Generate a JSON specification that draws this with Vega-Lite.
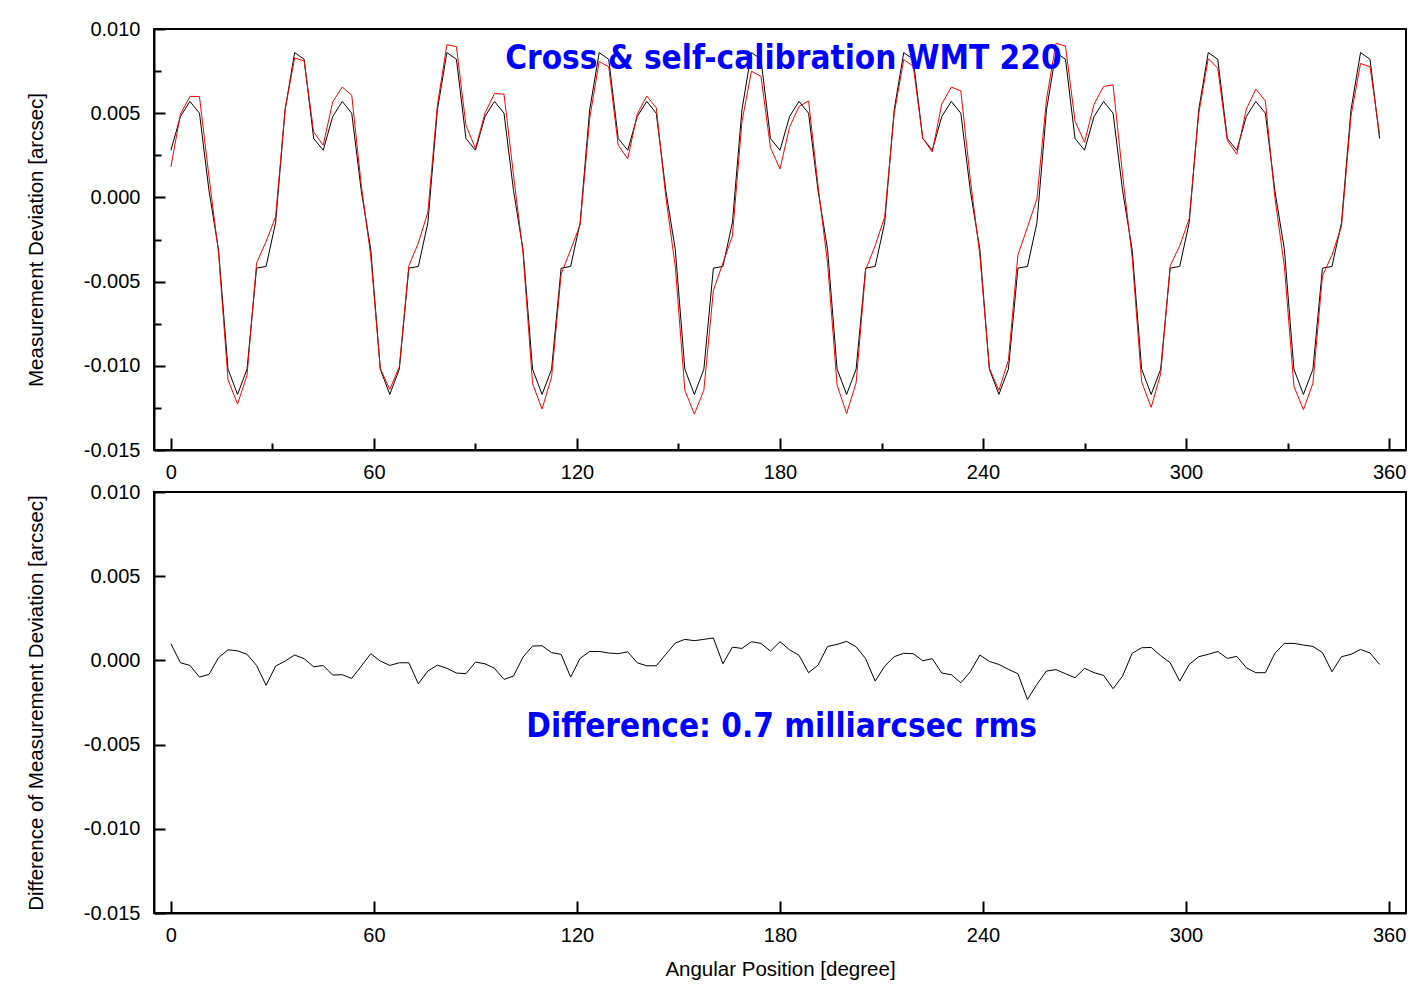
{
  "$schema": "https://vega.github.io/schema/vega-lite/v6.json",
  "background": "white",
  "padding": {"left": 25, "top": 18, "right": 20, "bottom": 8},
  "config": {
    "font": "Liberation Sans",
    "view": {"stroke": "black", "strokeWidth": 2},
    "axis": {"domainColor": "black", "domainWidth": 2, "tickColor": "black", "tickWidth": 2, "labelFont": "Liberation Sans", "labelFontSize": 20, "labelColor": "black", "titleFont": "Liberation Sans", "titleFontSize": 20.5, "titleFontWeight": "normal", "titleColor": "black", "grid": false, "labelFlush": false, "labelOverlap": false}
  },
  "data": {"values": [
    {"a":0,"b":0.0028,"r":0.00181,"d":0.00099},
    {"a":2.8125,"b":0.0048,"r":0.00494,"d":-0.00014},
    {"a":5.625,"b":0.0057,"r":0.006,"d":-0.0003},
    {"a":8.4375,"b":0.005,"r":0.00599,"d":-0.00099},
    {"a":11.25,"b":0.0004,"r":0.00123,"d":-0.00083},
    {"a":14.0625,"b":-0.0031,"r":-0.00326,"d":0.00016},
    {"a":16.875,"b":-0.0102,"r":-0.01083,"d":0.00063},
    {"a":19.6875,"b":-0.0117,"r":-0.01227,"d":0.00057},
    {"a":22.5,"b":-0.0102,"r":-0.01056,"d":0.00036},
    {"a":25.3125,"b":-0.0042,"r":-0.0039,"d":-0.0003},
    {"a":28.125,"b":-0.0041,"r":-0.00262,"d":-0.00148},
    {"a":30.9375,"b":-0.0015,"r":-0.00116,"d":-0.00034},
    {"a":33.75,"b":0.0052,"r":0.00524,"d":-0.00004},
    {"a":36.5625,"b":0.0086,"r":0.00828,"d":0.00032},
    {"a":39.375,"b":0.0082,"r":0.0081,"d":0.0001},
    {"a":42.1875,"b":0.0035,"r":0.00388,"d":-0.00038},
    {"a":45,"b":0.0028,"r":0.0031,"d":-0.0003},
    {"a":47.8125,"b":0.0048,"r":0.00567,"d":-0.00087},
    {"a":50.625,"b":0.0057,"r":0.00655,"d":-0.00085},
    {"a":53.4375,"b":0.005,"r":0.00607,"d":-0.00107},
    {"a":56.25,"b":0.0004,"r":0.00074,"d":-0.00034},
    {"a":59.0625,"b":-0.0031,"r":-0.0035,"d":0.0004},
    {"a":61.875,"b":-0.0102,"r":-0.01016,"d":-0.00004},
    {"a":64.6875,"b":-0.0117,"r":-0.0114,"d":-0.0003},
    {"a":67.5,"b":-0.0102,"r":-0.01006,"d":-0.00014},
    {"a":70.3125,"b":-0.0042,"r":-0.00406,"d":-0.00014},
    {"a":73.125,"b":-0.0041,"r":-0.00271,"d":-0.00139},
    {"a":75.9375,"b":-0.0015,"r":-0.00087,"d":-0.00063},
    {"a":78.75,"b":0.0052,"r":0.00548,"d":-0.00028},
    {"a":81.5625,"b":0.0086,"r":0.00907,"d":-0.00047},
    {"a":84.375,"b":0.0082,"r":0.00895,"d":-0.00075},
    {"a":87.1875,"b":0.0035,"r":0.00429,"d":-0.00079},
    {"a":90,"b":0.0028,"r":0.0029,"d":-0.0001},
    {"a":92.8125,"b":0.0048,"r":0.005,"d":-0.0002},
    {"a":95.625,"b":0.0057,"r":0.00617,"d":-0.00047},
    {"a":98.4375,"b":0.005,"r":0.00613,"d":-0.00113},
    {"a":101.25,"b":0.0004,"r":0.00133,"d":-0.00093},
    {"a":104.0625,"b":-0.0031,"r":-0.0033,"d":0.0002},
    {"a":106.875,"b":-0.0102,"r":-0.01105,"d":0.00085},
    {"a":109.6875,"b":-0.0117,"r":-0.01257,"d":0.00087},
    {"a":112.5,"b":-0.0102,"r":-0.01066,"d":0.00046},
    {"a":115.3125,"b":-0.0042,"r":-0.00456,"d":0.00036},
    {"a":118.125,"b":-0.0041,"r":-0.00311,"d":-0.00099},
    {"a":120.9375,"b":-0.0015,"r":-0.00162,"d":0.00012},
    {"a":123.75,"b":0.0052,"r":0.00467,"d":0.00053},
    {"a":126.5625,"b":0.0086,"r":0.00807,"d":0.00053},
    {"a":129.375,"b":0.0082,"r":0.00776,"d":0.00044},
    {"a":132.1875,"b":0.0035,"r":0.0031,"d":0.0004},
    {"a":135,"b":0.0028,"r":0.00229,"d":0.00051},
    {"a":137.8125,"b":0.0048,"r":0.00494,"d":-0.00014},
    {"a":140.625,"b":0.0057,"r":0.00602,"d":-0.00032},
    {"a":143.4375,"b":0.005,"r":0.00532,"d":-0.00032},
    {"a":146.25,"b":0.0004,"r":0.00004,"d":0.00036},
    {"a":149.0625,"b":-0.0031,"r":-0.00413,"d":0.00103},
    {"a":151.875,"b":-0.0102,"r":-0.01145,"d":0.00125},
    {"a":154.6875,"b":-0.0117,"r":-0.01287,"d":0.00117},
    {"a":157.5,"b":-0.0102,"r":-0.01145,"d":0.00125},
    {"a":160.3125,"b":-0.0042,"r":-0.00553,"d":0.00133},
    {"a":163.125,"b":-0.0041,"r":-0.0039,"d":-0.0002},
    {"a":165.9375,"b":-0.0015,"r":-0.00229,"d":0.00079},
    {"a":168.75,"b":0.0052,"r":0.00449,"d":0.00071},
    {"a":171.5625,"b":0.0086,"r":0.00749,"d":0.00111},
    {"a":174.375,"b":0.0082,"r":0.00719,"d":0.00101},
    {"a":177.1875,"b":0.0035,"r":0.00295,"d":0.00055},
    {"a":180,"b":0.0028,"r":0.00169,"d":0.00111},
    {"a":182.8125,"b":0.0048,"r":0.00417,"d":0.00063},
    {"a":185.625,"b":0.0057,"r":0.0054,"d":0.0003},
    {"a":188.4375,"b":0.005,"r":0.00573,"d":-0.00073},
    {"a":191.25,"b":0.0004,"r":0.00068,"d":-0.00028},
    {"a":194.0625,"b":-0.0031,"r":-0.00393,"d":0.00083},
    {"a":196.875,"b":-0.0102,"r":-0.01115,"d":0.00095},
    {"a":199.6875,"b":-0.0117,"r":-0.01283,"d":0.00113},
    {"a":202.5,"b":-0.0102,"r":-0.01101,"d":0.00081},
    {"a":205.3125,"b":-0.0042,"r":-0.0043,"d":0.0001},
    {"a":208.125,"b":-0.0041,"r":-0.00287,"d":-0.00123},
    {"a":210.9375,"b":-0.0015,"r":-0.00116,"d":-0.00034},
    {"a":213.75,"b":0.0052,"r":0.00498,"d":0.00022},
    {"a":216.5625,"b":0.0086,"r":0.00818,"d":0.00042},
    {"a":219.375,"b":0.0082,"r":0.0078,"d":0.0004},
    {"a":222.1875,"b":0.0035,"r":0.00352,"d":-0.00002},
    {"a":225,"b":0.0028,"r":0.0027,"d":0.0001},
    {"a":227.8125,"b":0.0048,"r":0.00555,"d":-0.00075},
    {"a":230.625,"b":0.0057,"r":0.00655,"d":-0.00085},
    {"a":233.4375,"b":0.005,"r":0.00633,"d":-0.00133},
    {"a":236.25,"b":0.0004,"r":0.00107,"d":-0.00067},
    {"a":239.0625,"b":-0.0031,"r":-0.00342,"d":0.00032},
    {"a":241.875,"b":-0.0102,"r":-0.01014,"d":-0.00006},
    {"a":244.6875,"b":-0.0117,"r":-0.01146,"d":-0.00024},
    {"a":247.5,"b":-0.0102,"r":-0.00967,"d":-0.00053},
    {"a":250.3125,"b":-0.0042,"r":-0.00341,"d":-0.00079},
    {"a":253.125,"b":-0.0041,"r":-0.00178,"d":-0.00232},
    {"a":255.9375,"b":-0.0015,"r":-0.00008,"d":-0.00142},
    {"a":258.75,"b":0.0052,"r":0.00583,"d":-0.00063},
    {"a":261.5625,"b":0.0086,"r":0.00915,"d":-0.00055},
    {"a":264.375,"b":0.0082,"r":0.00899,"d":-0.00079},
    {"a":267.1875,"b":0.0035,"r":0.00453,"d":-0.00103},
    {"a":270,"b":0.0028,"r":0.00327,"d":-0.00047},
    {"a":272.8125,"b":0.0048,"r":0.00553,"d":-0.00073},
    {"a":275.625,"b":0.0057,"r":0.00659,"d":-0.00089},
    {"a":278.4375,"b":0.005,"r":0.00668,"d":-0.00168},
    {"a":281.25,"b":0.0004,"r":0.00133,"d":-0.00093},
    {"a":284.0625,"b":-0.0031,"r":-0.00352,"d":0.00042},
    {"a":286.875,"b":-0.0102,"r":-0.01095,"d":0.00075},
    {"a":289.6875,"b":-0.0117,"r":-0.01247,"d":0.00077},
    {"a":292.5,"b":-0.0102,"r":-0.01048,"d":0.00028},
    {"a":295.3125,"b":-0.0042,"r":-0.00406,"d":-0.00014},
    {"a":298.125,"b":-0.0041,"r":-0.00287,"d":-0.00123},
    {"a":300.9375,"b":-0.0015,"r":-0.00126,"d":-0.00024},
    {"a":303.75,"b":0.0052,"r":0.00498,"d":0.00022},
    {"a":306.5625,"b":0.0086,"r":0.00824,"d":0.00036},
    {"a":309.375,"b":0.0082,"r":0.00767,"d":0.00053},
    {"a":312.1875,"b":0.0035,"r":0.00338,"d":0.00012},
    {"a":315,"b":0.0028,"r":0.00256,"d":0.00024},
    {"a":317.8125,"b":0.0048,"r":0.00524,"d":-0.00044},
    {"a":320.625,"b":0.0057,"r":0.00643,"d":-0.00073},
    {"a":323.4375,"b":0.005,"r":0.00573,"d":-0.00073},
    {"a":326.25,"b":0.0004,"r":-0.00002,"d":0.00042},
    {"a":329.0625,"b":-0.0031,"r":-0.00411,"d":0.00101},
    {"a":331.875,"b":-0.0102,"r":-0.01121,"d":0.00101},
    {"a":334.6875,"b":-0.0117,"r":-0.01261,"d":0.00091},
    {"a":337.5,"b":-0.0102,"r":-0.01103,"d":0.00083},
    {"a":340.3125,"b":-0.0042,"r":-0.00466,"d":0.00046},
    {"a":343.125,"b":-0.0041,"r":-0.00343,"d":-0.00067},
    {"a":345.9375,"b":-0.0015,"r":-0.00172,"d":0.00022},
    {"a":348.75,"b":0.0052,"r":0.00484,"d":0.00036},
    {"a":351.5625,"b":0.0086,"r":0.00795,"d":0.00065},
    {"a":354.375,"b":0.0082,"r":0.00776,"d":0.00044},
    {"a":357.1875,"b":0.0035,"r":0.00374,"d":-0.00024}
  ]},
  "spacing": 42,
  "bounds": "flush",
  "vconcat": [
    {
      "width": 1252,
      "height": 421,
      "layer": [
        {
          "mark": {"type": "line", "color": "black", "strokeWidth": 1},
          "encoding": {
            "x": {"field": "a", "type": "quantitative", "scale": {"domain": [-5, 365], "nice": false, "zero": false},
              "axis": {"title": null, "values": [0,30,60,90,120,150,180,210,240,270,300,330,360],
                "tickSize": {"condition": {"test": "datum.value % 60 === 0", "value": -12}, "value": -7},
                "labelExpr": "datum.value % 60 === 0 ? datum.label : ''", "labelPadding": 24}},
            "y": {"field": "b", "type": "quantitative", "scale": {"domain": [-0.015, 0.01], "nice": false, "zero": false},
              "axis": {"title": "Measurement Deviation [arcsec]", "values": [-0.015,-0.0125,-0.01,-0.0075,-0.005,-0.0025,0,0.0025,0.005,0.0075,0.01],
                "tickSize": {"condition": {"test": "round(datum.value*10000) % 50 === 0", "value": -11}, "value": -7},
                "labelExpr": "round(datum.value*10000) % 50 === 0 ? replace(format(datum.value, '.3f'), '\u2212', '-') : ''",
                "labelPadding": 25, "titlePadding": 37}}
          }
        },
        {
          "mark": {"type": "line", "color": "#ff0000", "strokeWidth": 1},
          "encoding": {
            "x": {"field": "a", "type": "quantitative"},
            "y": {"field": "r", "type": "quantitative", "axis": {"title": "Measurement Deviation [arcsec]"}}
          }
        },
        {
          "data": {"values": [{}]},
          "mark": {"type": "text", "color": "#0000ff", "font": "DejaVu Sans Condensed, Liberation Sans", "fontWeight": "bold", "fontSize": 33, "align": "center", "baseline": "alphabetic"},
          "encoding": {
            "x": {"datum": 181},
            "y": {"datum": 0.0076},
            "text": {"value": "Cross & self-calibration WMT 220"}
          }
        }
      ]
    },
    {
      "width": 1252,
      "height": 421,
      "layer": [
        {
          "mark": {"type": "line", "color": "black", "strokeWidth": 1},
          "encoding": {
            "x": {"field": "a", "type": "quantitative", "scale": {"domain": [-5, 365], "nice": false, "zero": false},
              "axis": {"title": "Angular Position [degree]", "values": [0,60,120,180,240,300,360],
                "tickSize": -12, "labelPadding": 24, "titlePadding": 14}},
            "y": {"field": "d", "type": "quantitative", "scale": {"domain": [-0.015, 0.01], "nice": false, "zero": false},
              "axis": {"title": "Difference of Measurement Deviation [arcsec]", "values": [-0.015,-0.01,-0.005,0,0.005,0.01],
                "tickSize": -11,
                "labelExpr": "replace(format(datum.value, '.3f'), '\u2212', '-')",
                "labelPadding": 25, "titlePadding": 37}}
          }
        },
        {
          "data": {"values": [{}]},
          "mark": {"type": "text", "color": "#0000ff", "font": "DejaVu Sans Condensed, Liberation Sans", "fontWeight": "bold", "fontSize": 33, "align": "center", "baseline": "alphabetic"},
          "encoding": {
            "x": {"datum": 180.5},
            "y": {"datum": -0.00457},
            "text": {"value": "Difference: 0.7 milliarcsec rms"}
          }
        }
      ]
    }
  ]
}
